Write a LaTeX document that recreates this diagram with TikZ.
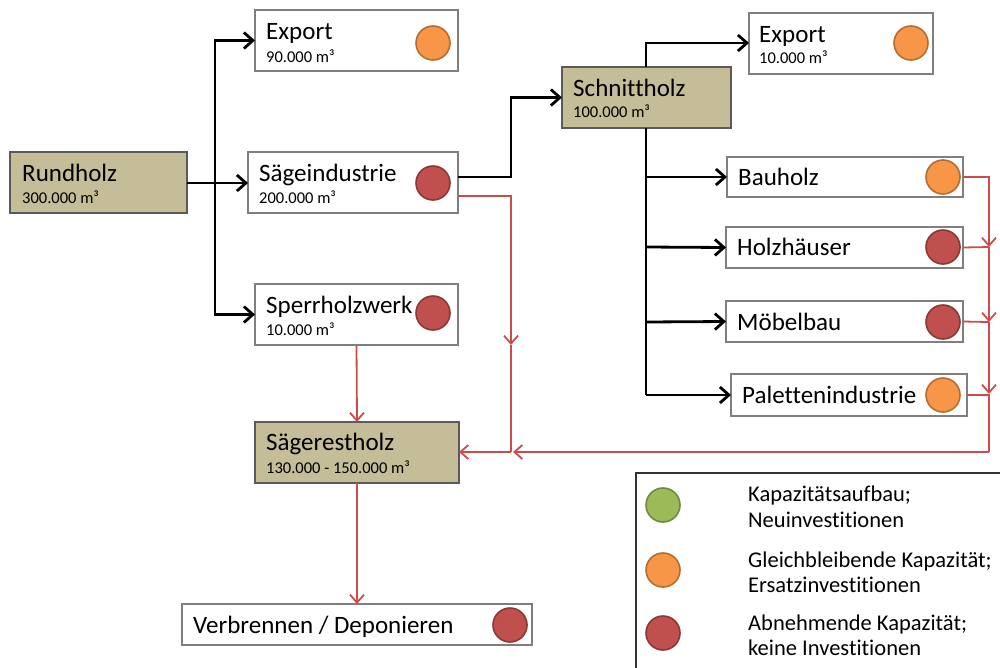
\documentclass[tikz,border=0pt]{standalone}
\usepackage{fontspec}
\setmainfont{Carlito}[Ligatures=NoCommon]
\usetikzlibrary{arrows.meta}
\definecolor{tanfill}{HTML}{C4BD97}
\definecolor{tanline}{HTML}{5A5A5A}
\definecolor{boxline}{HTML}{7F7F7F}
\definecolor{orfill}{HTML}{F79646}
\definecolor{orline}{HTML}{B66D31}
\definecolor{rdfill}{HTML}{C0504D}
\definecolor{rdline}{HTML}{8C3836}
\definecolor{grfill}{HTML}{9BBB59}
\definecolor{grline}{HTML}{71893F}
\definecolor{flowred}{HTML}{CC4C4C}
\newcommand{\mkbox}[6]{\node[#6, minimum width={#4-#2}, minimum height={#5-#3}] (#1) at ({(#2+#4)/2},{(#3+#5)/2}) {};}
\tikzset{
  wbox/.style={draw=boxline, fill=white, line width=1.4pt, inner sep=0pt, outer sep=0pt},
  tbox/.style={draw=tanline, fill=tanfill, line width=1.4pt, inner sep=0pt, outer sep=0pt},
  dot/.style={circle, minimum size=34pt, inner sep=0pt, line width=1.6pt},
  odot/.style={dot, fill=orfill, draw=orline},
  rdot/.style={dot, fill=rdfill, draw=rdline},
  gdot/.style={dot, fill=grfill, draw=grline},
  big/.style={anchor=base west, inner sep=0pt, font=\fontsize{25}{30}\selectfont},
  small/.style={anchor=base west, inner sep=0pt, font=\fontsize{16.5}{20}\selectfont},
  leg/.style={anchor=base west, inner sep=0pt, font=\fontsize{22.5}{26}\selectfont},
  blk/.style={draw=black, line width=2.8pt},
  blkarr/.style={blk, -{Straight Barb[length=9pt,width=16pt,line width=2.8pt]}},
  red/.style={draw=flowred, line width=1.8pt},
  redarr/.style={red, -{Straight Barb[length=8pt,width=14pt,line width=1.8pt]}}
}
\begin{document}
\begin{tikzpicture}[x=1pt,y=-1pt]
\useasboundingbox (0,0) rectangle (1000,667);
% boxes
\mkbox{rund}{10}{152}{187}{213}{tbox}
\mkbox{exp1}{255}{10}{458}{71}{wbox}
\mkbox{saege}{248}{152}{458}{213}{wbox}
\mkbox{sperr}{255}{284}{458}{345}{wbox}
\mkbox{schnitt}{562}{67}{731}{128}{tbox}
\mkbox{exp2}{749}{13}{933}{74}{wbox}
\mkbox{bau}{727}{157}{963}{197}{wbox}
\mkbox{holz}{726}{227}{963}{268}{wbox}
\mkbox{moebel}{726}{301}{963}{342}{wbox}
\mkbox{palette}{731}{374}{967}{416}{wbox}
\mkbox{rest}{255}{422}{459}{483}{tbox}
\mkbox{verb}{182}{604}{532}{645}{wbox}
% circles
\node[odot] (c1) at (433,43) {};
\node[rdot] (c2) at (433,183) {};
\node[rdot] (c3) at (433,313) {};
\node[odot] (c4) at (911,43) {};
\node[odot] (c5) at (943,177) {};
\node[rdot] (c6) at (943,247) {};
\node[rdot] (c7) at (943,322) {};
\node[odot] (c8) at (943,395) {};
\node[rdot] (c9) at (510,625) {};
% texts
\node[big] (t1) at (266,39) {Export};
\node[small] (t1s) at (266,62) {90.000 m³};
\node[big] (t2) at (22,181) {Rundholz};
\node[small] (t2s) at (22,203) {300.000 m³};
\node[big] (t3) at (259,181) {Sägeindustrie};
\node[small] (t3s) at (259,203) {200.000 m³};
\node[big] (t4) at (266,313) {Sperrholzwerk};
\node[small] (t4s) at (266,335) {10.000 m³};
\node[big] (t5) at (573,96) {Schnittholz};
\node[small] (t5s) at (573,117) {100.000 m³};
\node[big] (t6) at (759,42) {Export};
\node[small] (t6s) at (759,63) {10.000 m³};
\node[big] (t7) at (738,185) {Bauholz};
\node[big] (t8) at (737,255) {Holzhäuser};
\node[big] (t9) at (737,330) {Möbelbau};
\node[big] (t10) at (742,403) {Palettenindustrie};
\node[big] (t11) at (266,450) {Sägerestholz};
\node[small] (t11s) at (266,473) {130.000 - 150.000 m³};
\node[big] (t12) at (193,633) {Verbrennen / Deponieren};
% black flows
\coordinate (j1) at (215,183);
\draw[blkarr] (rund.east |- j1) -- (saege.west |- j1);
\draw[blkarr] (j1) |- (exp1.west);
\draw[blkarr] (j1) |- (sperr.west);
\coordinate (j2) at (511,177);
\draw[blkarr] (saege.east |- j2) -- (j2) |- (schnitt.west);
\coordinate (j3) at (646,43);
\draw[blkarr] (schnitt.north -| j3) -- (j3) -- (exp2.west |- j3);
\coordinate (j4) at (646,395);
\draw[blk] (schnitt.south -| j4) -- (j4);
\draw[blkarr] (646,177) -- (bau.west);
\draw[blkarr] (646,247) -- (holz.west);
\draw[blkarr] (646,322) -- (moebel.west);
\draw[blkarr] (j4) -- (palette.west);
% red flows
\coordinate (r1) at (511,196);
\coordinate (r2) at (511,345);
\coordinate (r3) at (511,452);
\draw[redarr] (saege.east |- r1) -- (r1) -- (r2);
\draw[red] (r2) -- (r3);
\draw[redarr] (r3) -- (rest.east |- r3);
\draw[redarr] (sperr.south) -- (rest.north);
\draw[redarr] (rest.south) -- (verb.north);
\coordinate (q1) at (989,247);
\coordinate (q2) at (989,322);
\coordinate (q3) at (989,394);
\coordinate (q4) at (989,452);
\draw[redarr] (bau.east) -| (q1);
\draw[red] (holz.east) -- (q1);
\draw[redarr] (q1) -- (q2);
\draw[red] (moebel.east) -- (q2);
\draw[redarr] (q2) -- (q3);
\draw[red] (palette.east) -| (q4);
\draw[redarr] (q4) -- ([xshift=2pt]r3);
% legend
\coordinate (l1) at (636,473);
\draw[line width=1.4pt, draw=black!80] (1001,473) -- (l1) -- (636,668);
\node[gdot] (g1) at (663,505) {};
\node[odot] (g2) at (663,570) {};
\node[rdot] (g3) at (663,633) {};
\node[leg] (lt1) at (748,501) {Kapazitätsaufbau;};
\node[leg] (lt2) at (748,527) {Neuinvestitionen};
\node[leg] (lt3) at (748,567) {Gleichbleibende Kapazität;};
\node[leg] (lt4) at (748,592) {Ersatzinvestitionen};
\node[leg] (lt5) at (748,630) {Abnehmende Kapazität;};
\node[leg] (lt6) at (748,655) {keine Investitionen};
\end{tikzpicture}
\end{document}
